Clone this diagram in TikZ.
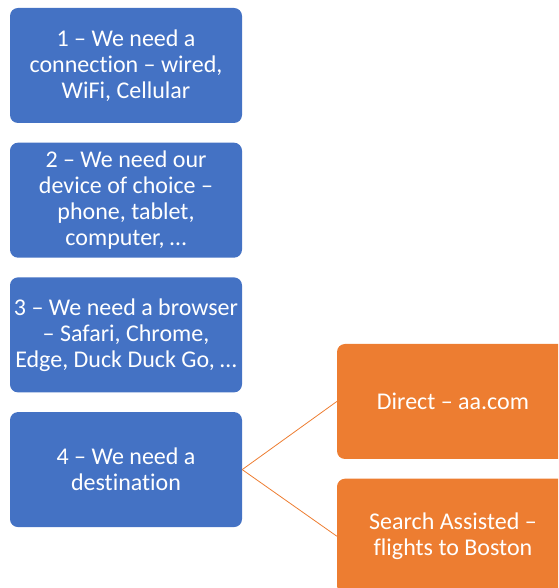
\documentclass[tikz,border=0pt]{standalone}
\usepackage{fontspec}
\setmainfont{Carlito}[Ligatures=NoCommon]
\usetikzlibrary{positioning}
\definecolor{stepblue}{HTML}{4472C4}
\definecolor{choiceorange}{HTML}{ED7D31}

\begin{document}
\begin{tikzpicture}[x=1pt, y=1pt, node distance=19.3pt]

    % page size, everything beyond is cut off
    \useasboundingbox (0,0) rectangle (558,588);
    \clip (0,0) rectangle (558,588);

    % Styles
    \tikzstyle{box}=[rounded corners=8pt, minimum width=232pt, minimum height=115pt, inner sep=0pt, text=white, align=center, font=\fontsize{24}{26}\selectfont]
    \tikzstyle{stepbox}=[box, fill=stepblue]
    \tikzstyle{choicebox}=[box, fill=choiceorange]
    \tikzstyle{branch}=[choiceorange, line width=0.8pt]

    % steps
    \node (s1) [stepbox] at (126,522.5) {1 -- We need a\\connection -- wired,\\WiFi, Cellular};
    \node (s2) [stepbox, below=of s1] {2 -- We need our\\device of choice --\\phone, tablet,\\computer, \dots};
    \node (s3) [stepbox, below=of s2] {3 -- We need a browser\\-- Safari, Chrome,\\Edge, Duck Duck Go, \dots};
    \node (s4) [stepbox, below=of s3] {4 -- We need a\\destination};

    % destinations
    \node (direct) [choicebox] at (453,186.5) {Direct -- aa.com};
    \node (search) [choicebox, below=of direct] {Search Assisted --\\flights to Boston};

    % branches
    \draw[branch] (s4.east) -- (direct.west);
    \draw[branch] (s4.east) -- (search.west);

\end{tikzpicture}
\end{document}
